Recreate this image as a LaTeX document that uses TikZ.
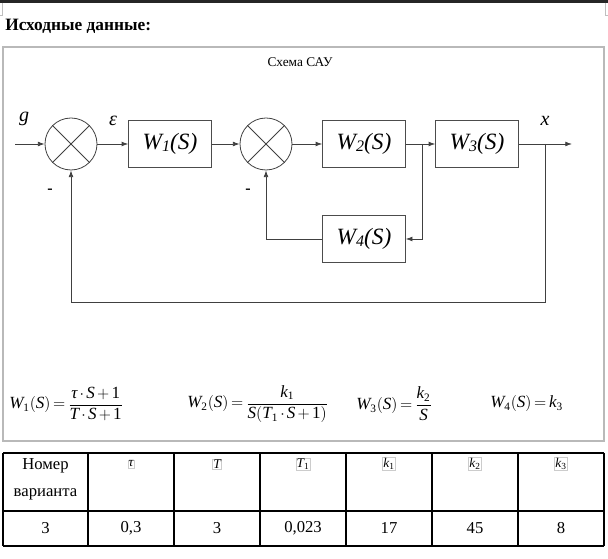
\documentclass[tikz,border=0pt]{standalone}
\usepackage{fontspec}
\setmainfont{Liberation Serif}
\usetikzlibrary{arrows.meta}
\newcommand{\vi}[1]{\textit{#1}}
\newcommand{\vs}[1]{\mbox{\fontsize{8.5}{9}\selectfont\upshape #1}}
\newcommand{\tightmath}{\thickmuskip=3mu\relax\medmuskip=2.5mu\relax}

\begin{document}
\begin{tikzpicture}[x=0.75pt, y=-0.75pt,
    >={Latex[length=5pt,width=3.6pt]},
    lnk/.style={draw=black!75, line width=0.6pt},
    blk/.style={draw=black!70, line width=0.6pt, minimum width=62pt, minimum height=35pt, inner sep=0pt, font=\fontsize{17.5}{19}\selectfont\itshape},
    summ/.style={circle, draw=black!75, line width=0.6pt, minimum size=39pt, inner sep=0pt},
    sig/.style={font=\fontsize{15}{17}\selectfont\itshape},
    cell/.style={font=\fontsize{12.5}{14}\selectfont},
    frm/.style={anchor=west, inner sep=0pt, font=\fontsize{12.8}{14}\selectfont\tightmath},
    sym/.style={draw=gray!40, line width=0.4pt, inner sep=0.6pt, font=\fontsize{10}{11}\selectfont\itshape},
    tline/.style={black, line width=0.9pt}]
    \useasboundingbox (0,0) rectangle (608,559);
    \fill[black!85] (0,0) rectangle (608,3);
    \draw[gray!50, line width=0.6pt] (2,3) -- (2,15) -- (0,15);
    \draw[gray!50, line width=0.6pt] (605,3) -- (605,15) -- (608,15);
    \node[anchor=base west, inner sep=0pt, font=\bfseries\fontsize{13}{15}\selectfont] (head) at (5,31) {Исходные данные:};
    \draw[gray!55, line width=0.8pt] (3,47) rectangle (604,441);
    \node[font=\fontsize{10}{11}\selectfont] (title) at (300,62) {Схема САУ};

    \node[summ] (s1) at (71,144) {};
    \node[summ] (s2) at (266,144) {};
    \draw[lnk] (s1.north west) -- (s1.south east) (s1.north east) -- (s1.south west);
    \draw[lnk] (s2.north west) -- (s2.south east) (s2.north east) -- (s2.south west);
    \node[blk] (w1) at (170,144) {W\raisebox{-0.1em}{\fontsize{12}{13}\selectfont 1}(S)};
    \node[blk] (w2) at (364,144) {W\raisebox{-0.1em}{\fontsize{12}{13}\selectfont 2}(S)};
    \node[blk] (w3) at (477,144) {W\raisebox{-0.1em}{\fontsize{12}{13}\selectfont 3}(S)};
    \node[blk] (w4) at (364,239) {W\raisebox{-0.1em}{\fontsize{12}{13}\selectfont 4}(S)};
    \coordinate (gin) at (15,144);
    \coordinate (jn) at (422,144);
    \coordinate (br) at (545,144);
    \coordinate (xout) at (572,144);
    \coordinate (fb) at (545,302);
    \node[sig] (g) at (24,119) {g};
    \node[sig] (eps) at (113,121) {ε};
    \node[sig] (x) at (545,121) {x};
    \node[font=\bfseries\fontsize{12}{14}\selectfont] (m1) at (50,191) {-};
    \node[font=\bfseries\fontsize{12}{14}\selectfont] (m2) at (248,191) {-};

    \draw[lnk,->] (gin) -- (s1.west);
    \draw[lnk,->] (s1.east) -- (w1.west);
    \draw[lnk,->] (w1.east) -- (s2.west);
    \draw[lnk,->] (s2.east) -- (w2.west);
    \draw[lnk,->] (w2.east) -- (w3.west);
    \draw[lnk,->] (jn) |- (w4.east);
    \draw[lnk,->] (w4.west) -| (s2.south);
    \draw[lnk,->] (w3.east) -- (xout);
    \draw[lnk,->] (br) -- (fb) -| (s1.south);

    \node[frm] (f1) at (9,404) {$\displaystyle \vi{W}_{\vs{1}}(\vi{S})=\frac{\vi{τ}\cdot \vi{S}+\mbox{1}}{\vi{T}\cdot \vi{S}+\mbox{1}}$};
    \node[frm] (f2) at (187,404) {$\displaystyle \vi{W}_{\vs{2}}(\vi{S})=\frac{\vi{k}_{\vs{1}}}{\vi{S}(\vi{T}_{\vs{1}}\cdot \vi{S}+\mbox{1})}$};
    \node[frm] (f3) at (356,404) {$\displaystyle \vi{W}_{\vs{3}}(\vi{S})=\frac{\vi{k}_{\vs{2}}}{\vi{S}}$};
    \node[frm] (f4) at (490,404) {$\vi{W}_{\vs{4}}(\vi{S})=\vi{k}_{\vs{3}}$};

    \draw[tline] (3,453) -- (604,453);
    \draw[tline] (3,511) -- (604,511);
    \draw[tline] (3,546) -- (604,546);
    \foreach \cx in {3,88,174,260,346,432,518,604}
        \draw[tline] (\cx,453) -- (\cx,546);
    \node[cell] (h0a) at (45.5,466) {Номер};
    \node[cell] (h0b) at (45.5,494) {варианта};
    \node[sym] (h1) at (131,464) {τ};
    \node[sym] (h2) at (217,464) {T};
    \node[sym] (h3) at (303,464) {T\textsubscript{\upshape 1}};
    \node[sym] (h4) at (389,464) {k\textsubscript{\upshape 1}};
    \node[sym] (h5) at (475,464) {k\textsubscript{\upshape 2}};
    \node[sym] (h6) at (561,464) {k\textsubscript{\upshape 3}};
    \node[cell] (d0) at (45.5,528) {3};
    \node[cell] (d1) at (131,528) {0,3};
    \node[cell] (d2) at (217,528) {3};
    \node[cell] (d3) at (303,528) {0,023};
    \node[cell] (d4) at (389,528) {17};
    \node[cell] (d5) at (475,528) {45};
    \node[cell] (d6) at (561,528) {8};
\end{tikzpicture}
\end{document}
